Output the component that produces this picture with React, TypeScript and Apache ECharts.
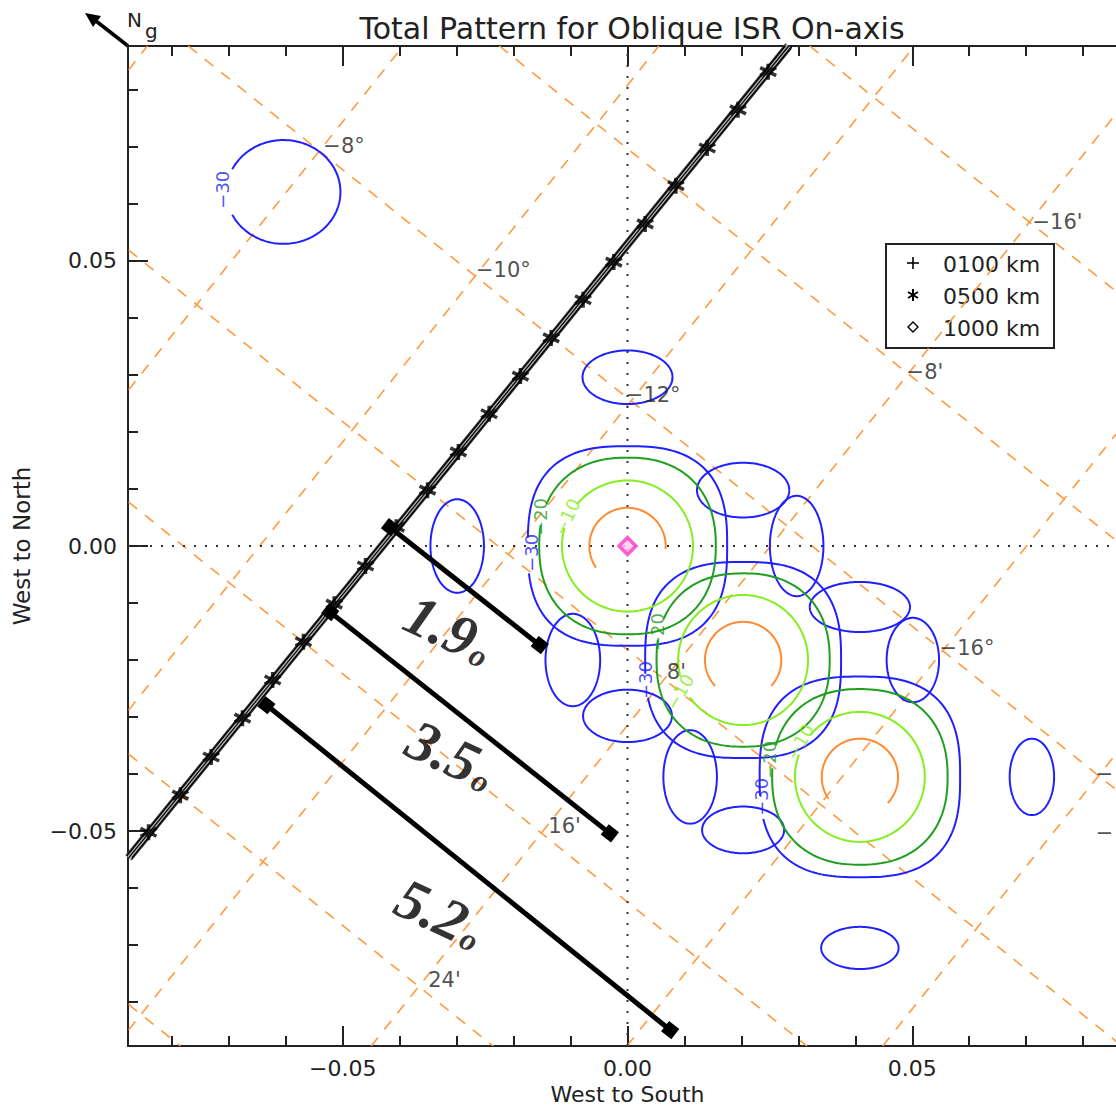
import React, { useEffect, useRef } from "react";
import * as echarts from "echarts";

// ---------- axes ----------
const AXIS_MIN = -0.0877;
const AXIS_MAX = 0.0877;
const majorTickValues = [-0.05, 0, 0.05];
const majorTickLabels = ["−0.05", "0.00", "0.05"];
const minorTickValues = [-0.08, -0.07, -0.06, -0.04, -0.03, -0.02, -0.01, 0.01, 0.02, 0.03, 0.04, 0.06, 0.07, 0.08];

// ---------- geomagnetic grid (dashed orange) ----------
// latitude lines −6° … −18° (end points)
const latX1 = [-0.0876, -0.0876, -0.0876, -0.0876, -0.045, -0.0001, 0.0448];
const latY1 = [0.0835, 0.0274, -0.0288, -0.0849, -0.0877, -0.0877, -0.0877];
const latX2 = [-0.0843, -0.0394, 0.0055, 0.0504, 0.0876, 0.0876, 0.0876];
const latY2 = [0.0877, 0.0877, 0.0877, 0.0877, 0.0781, 0.0219, -0.0342];
// longitude lines −16' … 32'
const lonX1 = [0.032, -0.0225, -0.0771, -0.0876, -0.0876, -0.0876, -0.0876];
const lonY1 = [0.0877, 0.0877, 0.0877, 0.0519, 0.0077, -0.0365, -0.0804];
const lonX2 = [0.0876, 0.0876, 0.0876, 0.0868, 0.0315, -0.0236, -0.0785];
const lonY2 = [0.0432, -0.0005, -0.0442, -0.0877, -0.0877, -0.0877, -0.0877];
// grid labels (the last two are cut by the right edge in the reference: only "−" shows)
const gridLabelText = ["−8°", "−10°", "−12°", "−16°", "−", "−16'", "−8'", "8'", "16'", "24'", "−"];
const gridLabelX = [-0.0534, -0.0266, -0.0003, 0.0548, 0.0822, 0.0711, 0.049, 0.0069, -0.0139, -0.035, 0.0822];
const gridLabelY = [0.0702, 0.0484, 0.0265, -0.0179, -0.04, 0.0568, 0.0305, -0.0221, -0.0491, -0.0761, -0.0504];

// ---------- beam track ----------
const trackEndX = [-0.0876, 0.0283];
const trackEndY = [-0.0547, 0.0877];
const trackOffsets = [-0.0006, 0, 0.0006];
const starX = [-0.0841, -0.0785, -0.0731, -0.0676, -0.0623, -0.0569, -0.0515, -0.046, -0.0406, -0.0351, -0.0297,
  -0.0243, -0.0188, -0.0134, -0.0078, -0.0024, 0.0031, 0.0085, 0.014, 0.0194, 0.0247];
const starY = [-0.0502, -0.0437, -0.037, -0.0302, -0.0235, -0.0168, -0.0102, -0.0035, 0.0033, 0.0098, 0.0165,
  0.0232, 0.0298, 0.0365, 0.0432, 0.0498, 0.0565, 0.0632, 0.0698, 0.0765, 0.0832];

// ---------- beam contours ----------
const beamX = [0, 0.0203, 0.0408];
const beamY = [0, -0.02, -0.0405];
// -3 dB (orange)
const c3R = [0.0067, 0.0067, 0.0067];
const c3Gap = [285, 270, 266];
const c3GapW = [141, 95, 102];
// -10 dB (light green)
const c10R = [0.0115, 0.0114, 0.0114];
const c10Gap = [152, 205, 150];
const c10GapW = [24, 20, 20];
// -20 dB (dark green)
const c20R = [0.0155, 0.0152, 0.0154];
const c20Gap = [162, 162, 169];
const c20GapW = [14, 14, 14];
// -30 dB (blue)
const c30R = [0.0175, 0.0172, 0.0176];
const c30Gap = [184, 190, 192];
const c30GapW = [12, 12, 12];
// side lobes (-30 dB, blue)
const lobeX = [-0.0299, 0.0297, 0, 0, -0.0096, 0.0501, 0.0203, 0.0203, 0.011, 0.071, 0.0408, 0.0408, -0.0604];
const lobeY = [0, 0, 0.0296, -0.0298, -0.02, -0.02, 0.0098, -0.0498, -0.0405, -0.0405, -0.0107, -0.0705, 0.0621];
const lobeRx = [0.0047, 0.0047, 0.0079, 0.0078, 0.0048, 0.0046, 0.0081, 0.0072, 0.0047, 0.0039, 0.0088, 0.0068, 0.01];
const lobeRy = [0.0082, 0.0088, 0.0047, 0.0046, 0.0081, 0.0074, 0.0048, 0.0041, 0.0082, 0.0067, 0.0044, 0.0037, 0.0091];
const lobeGap = [0, 0, 0, 0, 0, 0, 0, 0, 0, 0, 0, 0, 180];
const lobeGapW = [0, 0, 0, 0, 0, 0, 0, 0, 0, 0, 0, 0, 52];

// contour labels
const cLabelText = ["−30", "−30", "−30", "−30", "−20", "−20", "−20", "−10", "−10", "−10"];
const cLabelX = [-0.0711, -0.0169, 0.0031, 0.0236, -0.0152, 0.0052, 0.025, -0.0106, 0.0092, 0.0303];
const cLabelY = [0.0625, -0.0012, -0.0235, -0.044, 0.0051, -0.0151, -0.0375, 0.0051, -0.0256, -0.0344];
const cLabelRot = [90, 90, 90, 90, 90, 90, 90, 65, 60, 60];
const cLabelLevel = [30, 30, 30, 30, 20, 20, 20, 10, 10, 10];

// ---------- separation arrows ----------
const arrowX1 = [-0.0417, -0.0522, -0.0634];
const arrowY1 = [0.0033, -0.0116, -0.0279];
const arrowX2 = [-0.0154, -0.0031, 0.0075];
const arrowY2 = [-0.0174, -0.0504, -0.0849];
const arrowText = ["1.9", "3.5", "5.2"];
const arrowLabelX = [-0.0313, -0.0309, -0.0329];
const arrowLabelY = [-0.0147, -0.0367, -0.0645];

// ---------- legend ----------
const legendText = ["0100 km", "0500 km", "1000 km"];

const FONT = "'DejaVu Sans', sans-serif";
const SERIF = "'Liberation Serif', 'DejaVu Serif', serif";
const INK = "#222";
const BLUE = "#2020ff";
const DGREEN = "#1f9e1f";
const LGREEN = "#84ee1e";
const ORANGE = "#ff8a30";
const GRIDORANGE = "#ff9a40";
const levelColor: Record<number, string> = { 30: BLUE, 20: DGREEN, 10: LGREEN };

const contourRender = (color: string, width: number) => (params: any, api: any) => {
  const cx = api.value(0);
  const cy = api.value(1);
  const c = api.coord([cx, cy]);
  const p2 = api.coord([cx + api.value(2), cy + api.value(3)]);
  const sx = Math.abs(p2[0] - c[0]);
  const sy = Math.abs(c[1] - p2[1]);
  const gap = api.value(4);
  const gapW = api.value(5);
  const n = api.value(6);
  const a0 = gap + gapW / 2;
  const a1 = gap + 360 - gapW / 2;
  const steps = 180;
  const e = 2 / n;
  const points: number[][] = [];
  for (let i = 0; i <= steps; i++) {
    const t = ((a0 + ((a1 - a0) * i) / steps) * Math.PI) / 180;
    const ct = Math.cos(t);
    const st = Math.sin(t);
    points.push([
      c[0] + sx * Math.sign(ct) * Math.pow(Math.abs(ct), e),
      c[1] - sy * Math.sign(st) * Math.pow(Math.abs(st), e),
    ]);
  }
  return {
    type: "polyline",
    shape: { points },
    style: { fill: "none", stroke: color, lineWidth: width },
    silent: true,
  };
};

const beamData = (r: number[], gap: number[], gapW: number[], n: number) =>
  beamX.map((x, i) => [x, beamY[i], r[i], r[i], gap[i], gapW[i], n]);

const tickLabel = (v: number) => {
  const i = majorTickValues.findIndex((m) => Math.abs(m - v) < 1e-9);
  return i >= 0 ? majorTickLabels[i] : "";
};

const makeAxis = (position: string, major: boolean, withLabel: boolean, extra: any = {}) => ({
  type: "value",
  position,
  min: AXIS_MIN,
  max: AXIS_MAX,
  axisLine: { show: major, onZero: false, lineStyle: { color: INK, width: 2 } },
  axisTick: {
    show: true,
    inside: true,
    length: major ? 20 : 10,
    customValues: major ? majorTickValues : minorTickValues,
    lineStyle: { color: INK, width: 2 },
  },
  axisLabel: withLabel
    ? {
        show: true,
        customValues: majorTickValues,
        formatter: tickLabel,
        fontFamily: FONT,
        fontSize: 22,
        color: INK,
        margin: 11,
      }
    : { show: false },
  splitLine: { show: false },
  ...extra,
});

function buildOption(): any {
  const starPath = "path://M0,-10L0,10M-8.66,-5L8.66,5M-8.66,5L8.66,-5";
  const series: any[] = [];

  // dotted zero lines
  series.push({
    type: "line",
    data: [[0, AXIS_MIN], [0, AXIS_MAX]],
    symbol: "none",
    lineStyle: { color: "#333", width: 2, type: [2, 9] },
    silent: true,
    z: 1,
  });
  series.push({
    type: "line",
    data: [[AXIS_MIN, 0], [AXIS_MAX, 0]],
    symbol: "none",
    lineStyle: { color: "#333", width: 2, type: [2, 9] },
    silent: true,
    z: 1,
  });

  // geomagnetic grid
  series.push({
    type: "lines",
    coordinateSystem: "cartesian2d",
    data: latX1.map((x, i) => ({ coords: [[x, latY1[i]], [latX2[i], latY2[i]]] })),
    lineStyle: { color: GRIDORANGE, width: 1.6, type: [11, 10], opacity: 1 },
    silent: true,
    z: 1,
  });
  series.push({
    type: "lines",
    coordinateSystem: "cartesian2d",
    data: lonX1.map((x, i) => ({ coords: [[x, lonY1[i]], [lonX2[i], lonY2[i]]] })),
    lineStyle: { color: GRIDORANGE, width: 1.6, type: [11, 10], opacity: 1 },
    silent: true,
    z: 1,
  });

  // contours
  series.push({
    type: "custom",
    renderItem: contourRender(BLUE, 2),
    data: lobeX.map((x, i) => [x, lobeY[i], lobeRx[i], lobeRy[i], lobeGap[i], lobeGapW[i], 2]),
    encode: { x: 0, y: 1 },
    z: 3,
  });
  series.push({ type: "custom", renderItem: contourRender(BLUE, 2), data: beamData(c30R, c30Gap, c30GapW, 2.7), encode: { x: 0, y: 1 }, z: 3 });
  series.push({ type: "custom", renderItem: contourRender(DGREEN, 2), data: beamData(c20R, c20Gap, c20GapW, 2.3), encode: { x: 0, y: 1 }, z: 3 });
  series.push({ type: "custom", renderItem: contourRender(LGREEN, 2), data: beamData(c10R, c10Gap, c10GapW, 2), encode: { x: 0, y: 1 }, z: 3 });
  series.push({ type: "custom", renderItem: contourRender(ORANGE, 2), data: beamData(c3R, c3Gap, c3GapW, 2), encode: { x: 0, y: 1 }, z: 3 });

  // contour labels
  series.push({
    type: "scatter",
    symbolSize: 1,
    itemStyle: { color: "transparent" },
    silent: true,
    z: 4,
    data: cLabelX.map((x, i) => ({
      value: [x, cLabelY[i]],
      label: { formatter: cLabelText[i], rotate: cLabelRot[i], color: levelColor[cLabelLevel[i]] },
    })),
    label: { show: true, position: "inside", fontFamily: FONT, fontSize: 18 },
  });

  // grid labels
  series.push({
    type: "scatter",
    symbolSize: 1,
    itemStyle: { color: "transparent" },
    silent: true,
    z: 4,
    data: gridLabelX.map((x, i) => ({ value: [x, gridLabelY[i]], label: { formatter: gridLabelText[i] } })),
    label: {
      show: true,
      position: "inside",
      align: "left",
      verticalAlign: "middle",
      fontFamily: FONT,
      fontSize: 21,
      color: INK,
    },
  });

  // beam track: dark base, gray core, three thin altitude tracks
  series.push({
    type: "line",
    data: trackEndX.map((x, i) => [x, trackEndY[i]]),
    symbol: "none",
    lineStyle: { color: "#3a3a3a", width: 8.5 },
    silent: true,
    z: 4,
  });
  series.push({
    type: "line",
    data: trackEndX.map((x, i) => [x, trackEndY[i]]),
    symbol: "none",
    lineStyle: { color: "#b0b0b0", width: 5.5 },
    silent: true,
    z: 4,
  });
  trackOffsets.forEach((off, k) => {
    series.push({
      type: "line",
      data: trackEndX.map((x, i) => [x + off, trackEndY[i]]),
      symbol: "none",
      lineStyle: { color: "#000", width: k === 1 ? 1.2 : 1.4 },
      silent: true,
      z: 5,
    });
  });
  series.push({
    type: "scatter",
    data: starX.map((x, i) => [x, starY[i]]),
    symbol: starPath,
    symbolSize: 16,
    itemStyle: { color: "#000", borderColor: "#000", borderWidth: 3.5 },
    silent: true,
    z: 6,
  });

  // separation arrows
  arrowX1.forEach((x, i) => {
    series.push({
      type: "line",
      data: [[x, arrowY1[i]], [arrowX2[i], arrowY2[i]]],
      symbol: "rect",
      symbolSize: 13,
      symbolRotate: -38,
      showSymbol: true,
      lineStyle: { color: "#000", width: 5 },
      itemStyle: { color: "#000" },
      silent: true,
      z: 7,
    });
  });
  series.push({
    type: "scatter",
    symbolSize: 1,
    itemStyle: { color: "transparent" },
    silent: true,
    z: 8,
    data: arrowLabelX.map((x, i) => ({
      value: [x, arrowLabelY[i]],
      label: { formatter: `{a|${arrowText[i]}}{b|o}` },
    })),
    label: {
      show: true,
      position: "inside",
      rotate: -25,
      rich: {
        a: { fontFamily: SERIF, fontWeight: "bold", fontStyle: "italic", fontSize: 58, color: "#000" },
        b: { fontFamily: SERIF, fontWeight: "bold", fontStyle: "italic", fontSize: 32, color: "#000", verticalAlign: "bottom", padding: [0, 0, 2, 2] },
      },
    },
  });

  // beam centre marker
  series.push({
    type: "scatter",
    data: [[beamX[0], beamY[0]]],
    symbol: "diamond",
    symbolSize: 17,
    itemStyle: { color: "#ffc8ee", borderColor: "#ff38c8", borderWidth: 3.5 },
    silent: true,
    z: 9,
  });

  const lg = { x: 913, y0: 263, dy: 32 };
  const legendGroup = {
    type: "group",
    z: 100,
    children: [
      {
        type: "rect",
        shape: { x: 886, y: 244, width: 168, height: 104 },
        style: { fill: "#fff", stroke: INK, lineWidth: 2 },
      },
      { type: "line", shape: { x1: lg.x - 6, y1: lg.y0, x2: lg.x + 6, y2: lg.y0 }, style: { stroke: "#000", lineWidth: 1.6 } },
      { type: "line", shape: { x1: lg.x, y1: lg.y0 - 6, x2: lg.x, y2: lg.y0 + 6 }, style: { stroke: "#000", lineWidth: 1.6 } },
      { type: "line", shape: { x1: lg.x, y1: lg.y0 + lg.dy - 6, x2: lg.x, y2: lg.y0 + lg.dy + 6 }, style: { stroke: "#000", lineWidth: 2 } },
      { type: "line", shape: { x1: lg.x - 5, y1: lg.y0 + lg.dy - 3, x2: lg.x + 5, y2: lg.y0 + lg.dy + 3 }, style: { stroke: "#000", lineWidth: 2 } },
      { type: "line", shape: { x1: lg.x - 5, y1: lg.y0 + lg.dy + 3, x2: lg.x + 5, y2: lg.y0 + lg.dy - 3 }, style: { stroke: "#000", lineWidth: 2 } },
      {
        type: "polygon",
        shape: { points: [[lg.x, lg.y0 + 2 * lg.dy - 5], [lg.x + 5, lg.y0 + 2 * lg.dy], [lg.x, lg.y0 + 2 * lg.dy + 5], [lg.x - 5, lg.y0 + 2 * lg.dy]] },
        style: { fill: "#fff", stroke: "#000", lineWidth: 1.4 },
      },
      ...legendText.map((t, i) => ({
        type: "text",
        x: 943,
        y: lg.y0 + i * lg.dy + 1,
        style: { text: t, fontFamily: FONT, fontSize: 22, fill: INK, verticalAlign: "middle", align: "left" },
      })),
    ],
  };

  const northGroup = {
    type: "group",
    z: 100,
    children: [
      { type: "line", shape: { x1: 128, y1: 46, x2: 96, y2: 21 }, style: { stroke: "#000", lineWidth: 3.5 } },
      { type: "polygon", shape: { points: [[85, 13], [101, 16], [93, 27]] }, style: { fill: "#000" } },
      { type: "text", x: 127, y: 20, style: { text: "N", fontFamily: FONT, fontSize: 20, fill: INK, verticalAlign: "middle" } },
      { type: "text", x: 145, y: 31, style: { text: "g", fontFamily: FONT, fontSize: 20, fill: INK, verticalAlign: "middle" } },
    ],
  };

  return {
    animation: false,
    backgroundColor: "#fff",
    title: {
      text: "Total Pattern for Oblique ISR On-axis",
      left: 627,
      top: 8,
      textAlign: "center",
      textStyle: { fontFamily: FONT, fontSize: 30, fontWeight: "normal", color: INK },
    },
    grid: { left: 128, top: 46, width: 999, height: 1000, containLabel: false, outerBoundsMode: "none" },
    xAxis: [
      makeAxis("bottom", true, true, {
        name: "West to South",
        nameLocation: "middle",
        nameGap: 22,
        nameTextStyle: { fontFamily: FONT, fontSize: 22, color: INK },
      }),
      makeAxis("bottom", false, false),
      makeAxis("top", true, false),
      makeAxis("top", false, false),
    ],
    yAxis: [
      makeAxis("left", true, true, {
        name: "West to North",
        nameLocation: "middle",
        nameGap: 95,
        nameRotate: 90,
        nameTextStyle: { fontFamily: FONT, fontSize: 23, color: INK },
      }),
      makeAxis("left", false, false),
    ],
    graphic: [legendGroup, northGroup],
    series,
  };
}

export default function App() {
  const ref = useRef<HTMLDivElement>(null);
  useEffect(() => {
    document.body.style.margin = "0";
    const chart = echarts.init(ref.current as HTMLDivElement, undefined, { renderer: "svg" });
    chart.setOption(buildOption());
    return () => chart.dispose();
  }, []);
  return <div ref={ref} style={{ width: 1116, height: 1106, overflow: "hidden", background: "#fff" }} />;
}
